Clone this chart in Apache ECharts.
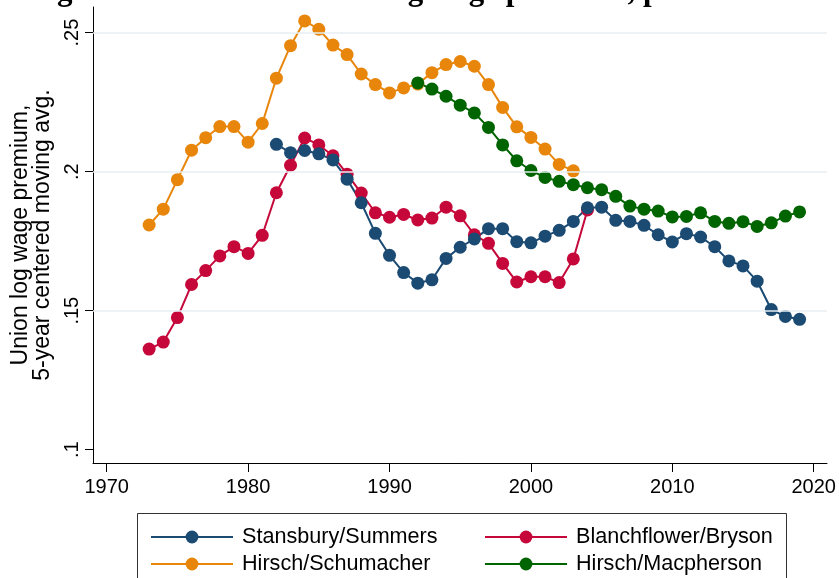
<!DOCTYPE html>
<html>
<head>
<meta charset="utf-8">
<script src="https://cdn.jsdelivr.net/npm/echarts@6/dist/echarts.min.js"></script>
<style>
  html, body { margin: 0; padding: 0; background: #fff; }
  #main { width: 839px; height: 578px; }
</style>
</head>
<body>
<div id="main"></div>
<script>
// 数据
var yearsSS = [];  // Stansbury/Summers 1982-2019
for (var y = 1982; y <= 2019; y++) yearsSS.push(y);
var valsSS = [.2098, .2068, .2076, .2064, .2042, .1973, .1888, .1778, .1699, .1637,
              .1599, .1611, .1688, .1728, .1758, .1795, .1795, .1748, .1744, .1768,
              .1789, .1821, .1870, .1872, .1825, .1821, .1807, .1773, .1747, .1777,
              .1765, .1730, .1679, .1661, .1606, .1504, .1479, .1469];

var yearsBB = [];  // Blanchflower/Bryson 1973-2004
for (var y = 1973; y <= 2004; y++) yearsBB.push(y);
var valsBB = [.1362, .1387, .1475, .1594, .1644, .1697, .1730, .1706, .1771, .1924,
              .2023, .2121, .2096, .2057, .1991, .1923, .1852, .1836, .1846, .1826,
              .1833, .1872, .1841, .1773, .1742, .1670, .1603, .1622, .1622, .1601,
              .1686, .1862];

var yearsHS = [];  // Hirsch/Schumacher 1973-2003
for (var y = 1973; y <= 2003; y++) yearsHS.push(y);
var valsHS = [.1808, .1865, .1971, .2077, .2122, .2162, .2162, .2106, .2173, .2336,
              .2453, .2542, .2512, .2455, .2421, .2351, .2313, .2283, .2301, .2315,
              .2356, .2385, .2396, .2379, .2313, .2231, .2161, .2123, .2081, .2026,
              .2003];

var yearsHM = [];  // Hirsch/Macpherson 1992-2019
for (var y = 1992; y <= 2019; y++) yearsHM.push(y);
var valsHM = [.2319, .2297, .2271, .2239, .2211, .2159, .2096, .2039, .2004, .1979,
              .1965, .1953, .1942, .1935, .1911, .1876, .1865, .1858, .1837, .1839,
              .1852, .1821, .1814, .1820, .1803, .1816, .1840, .1855];

var xTicks = [1970, 1980, 1990, 2000, 2010, 2020];
var yTicks = [0.1, 0.15, 0.2, 0.25];
var yTickLabels = ['.1', '.15', '.2', '.25'];
var gridValues = [0.15, 0.2, 0.25];

var titleText = 'Figure 4: Estimated union log wage premium, private sector';
var yName = 'Union log wage premium,\n5-year centered moving avg.';

function pairs(xs, vs) {
    return xs.map(function (x, i) { return [x, vs[i]]; });
}

var FONT = 'Liberation Sans';
var chart = echarts.init(document.getElementById('main'), null, {renderer: 'canvas'});

function lineSeries(name, color, xs, vs) {
    return {
        name: name,
        type: 'line',
        data: pairs(xs, vs),
        symbol: 'circle',
        symbolSize: 13,
        showSymbol: true,
        lineStyle: {color: color, width: 2},
        itemStyle: {color: color},
        emphasis: {disabled: true},
        animation: false
    };
}

function legendCol(left, names) {
    return {
        orient: 'vertical',
        left: left,
        top: 521,
        height: 80,
        itemWidth: 82,
        itemHeight: 16,
        itemGap: 5,
        textStyle: {color: '#000', fontSize: 21.6, fontFamily: FONT, padding: [0, 0, 0, 4]},
        data: names,
        selectedMode: false
    };
}

var option = {
    animation: false,
    grid: {left: 93, right: 12, top: 7, bottom: 115},
    xAxis: {
        type: 'value',
        min: 1969.03,
        max: 2020.94,
        axisLine: {onZero: false, lineStyle: {color: '#000', width: 1}},
        axisTick: {show: true, length: 9, customValues: xTicks, lineStyle: {color: '#000'}},
        axisLabel: {
            customValues: xTicks, color: '#000', fontSize: 20, fontFamily: FONT, margin: 14,
            formatter: function (v) { return String(Math.round(v)); }
        },
        splitLine: {show: false}
    },
    yAxis: {
        type: 'value',
        min: 0.09522,
        max: 0.2592,
        name: yName,
        nameLocation: 'middle',
        nameGap: 28,
        nameTextStyle: {color: '#000', fontSize: 23, fontFamily: FONT, lineHeight: 22},
        axisLine: {show: true, lineStyle: {color: '#000', width: 1}},
        axisTick: {show: true, length: 8, customValues: yTicks, lineStyle: {color: '#000'}},
        axisLabel: {
            customValues: yTicks,
            rotate: 90,
            color: '#000',
            fontSize: 20,
            fontFamily: FONT,
            margin: 11,
            formatter: function (v) {
                var i = yTicks.indexOf(Math.round(v * 100) / 100);
                return i >= 0 ? yTickLabels[i] : '';
            }
        },
        splitLine: {show: false}
    },
    legend: [
        legendCol(145, ['Stansbury/Summers', 'Hirsch/Schumacher']),
        legendCol(479, ['Blanchflower/Bryson', 'Hirsch/Macpherson'])
    ],
    graphic: [{
        type: 'rect',
        z: -1,
        shape: {x: 137.5, y: 513.5, width: 649, height: 80},
        style: {fill: '#fff', stroke: '#333', lineWidth: 1}
    }, {
        type: 'text',
        x: 427,
        y: -8,
        style: {
            text: titleText,
            textAlign: 'center',
            textVerticalAlign: 'middle',
            font: 'bold 31px "Liberation Serif"',
            fill: '#000'
        }
    }],
    series: [{
        // 网格线
        type: 'line',
        data: [],
        silent: true,
        markLine: {
            silent: true,
            symbol: 'none',
            animation: false,
            label: {show: false},
            lineStyle: {color: '#e6eef2', type: 'solid', width: 1.5},
            data: gridValues.map(function (v) { return {yAxis: v}; })
        }
    },
        lineSeries('Blanchflower/Bryson', '#c5073a', yearsBB, valsBB),
        lineSeries('Hirsch/Schumacher', '#e8860b', yearsHS, valsHS),
        lineSeries('Stansbury/Summers', '#1b4a72', yearsSS, valsSS),
        lineSeries('Hirsch/Macpherson', '#006400', yearsHM, valsHM)
    ]
};
chart.setOption(option);
</script>
</body>
</html>
